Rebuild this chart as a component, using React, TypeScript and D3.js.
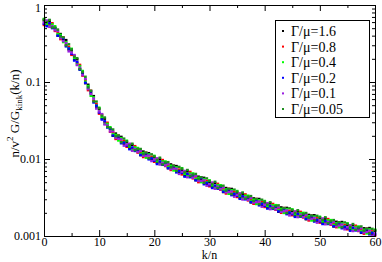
import React, { useEffect, useRef } from 'react';
import * as d3 from 'd3';

// k/n sampling grid shared by every series
const kValues = [
  0, 0.5, 1, 1.5, 2, 2.5, 3, 3.5, 4, 4.5, 5, 5.5, 6, 6.5, 7, 7.5, 8, 8.5, 9, 9.5,
  10, 10.5, 11, 11.5, 12, 12.5, 13, 13.5, 14, 14.5, 15, 15.5, 16, 16.5, 17, 17.5, 18, 18.5, 19, 19.5,
  20, 20.5, 21, 21.5, 22, 22.5, 23, 23.5, 24, 24.5, 25, 25.5, 26, 26.5, 27, 27.5, 28, 28.5, 29, 29.5,
  30, 30.5, 31, 31.5, 32, 32.5, 33, 33.5, 34, 34.5, 35, 35.5, 36, 36.5, 37, 37.5, 38, 38.5, 39, 39.5,
  40, 40.5, 41, 41.5, 42, 42.5, 43, 43.5, 44, 44.5, 45, 45.5, 46, 46.5, 47, 47.5, 48, 48.5, 49, 49.5,
  50, 50.5, 51, 51.5, 52, 52.5, 53, 53.5, 54, 54.5, 55, 55.5, 56, 56.5, 57, 57.5, 58, 58.5, 59, 59.5,
  60,
];

const g16 = [
  0.63, 0.55, 0.62, 0.51, 0.50, 0.40, 0.42, 0.35, 0.35, 0.264,
  0.257, 0.196, 0.197, 0.148, 0.132, 0.0965, 0.0922, 0.0713, 0.0656, 0.0477,
  0.0443, 0.0336, 0.0334, 0.0264, 0.0245, 0.0200, 0.0214, 0.0187, 0.0194, 0.0158,
  0.0165, 0.0139, 0.0152, 0.0131, 0.0132, 0.0112, 0.0125, 0.0112, 0.0119, 0.0099,
  0.0105, 0.0089, 0.0100, 0.0086, 0.0088, 0.0076, 0.0085, 0.0076, 0.0081, 0.0067,
  0.0072, 0.0061, 0.0069, 0.0060, 0.0061, 0.0053, 0.0059, 0.0053, 0.0057, 0.00475,
  0.00504, 0.00434, 0.00488, 0.00424, 0.00431, 0.00372, 0.0042, 0.0038, 0.00409, 0.00342,
  0.00366, 0.00314, 0.00354, 0.00308, 0.00315, 0.00273, 0.00308, 0.0028, 0.00303, 0.00254,
  0.00272, 0.00234, 0.00265, 0.00232, 0.00238, 0.00207, 0.00235, 0.00214, 0.00232, 0.00196,
  0.00212, 0.00183, 0.00208, 0.00183, 0.00189, 0.00165, 0.00188, 0.00171, 0.00186, 0.00157,
  0.0017, 0.00148, 0.00168, 0.00147, 0.00152, 0.00133, 0.00153, 0.0014, 0.00152, 0.00128,
  0.0014, 0.00121, 0.00138, 0.00121, 0.00125, 0.0011, 0.00126, 0.00116, 0.00127, 0.00106,
  0.00116,
];

const g08 = [
  0.55, 0.61, 0.56, 0.58, 0.46, 0.44, 0.36, 0.38, 0.30, 0.286,
  0.225, 0.219, 0.178, 0.167, 0.121, 0.107, 0.0783, 0.077, 0.0572, 0.0517,
  0.0388, 0.0375, 0.0303, 0.0296, 0.0226, 0.0222, 0.0182, 0.0202, 0.0169, 0.0171,
  0.0144, 0.0155, 0.0138, 0.0147, 0.0121, 0.0124, 0.0106, 0.0121, 0.0104, 0.0107,
  0.0092, 0.0100, 0.0091, 0.0097, 0.0081, 0.0084, 0.0072, 0.0082, 0.0071, 0.0073,
  0.0063, 0.0069, 0.0063, 0.0068, 0.0056, 0.0059, 0.0050, 0.0058, 0.0050, 0.0052,
  0.00442, 0.00486, 0.00443, 0.00476, 0.00398, 0.00413, 0.00356, 0.00411, 0.00357, 0.00371,
  0.00321, 0.00352, 0.00321, 0.00347, 0.0029, 0.00303, 0.00262, 0.00303, 0.00264, 0.00275,
  0.00238, 0.00262, 0.0024, 0.00261, 0.00219, 0.00229, 0.002, 0.00231, 0.00203, 0.00212,
  0.00186, 0.00205, 0.00189, 0.00206, 0.00174, 0.00183, 0.00159, 0.00185, 0.00162, 0.0017,
  0.00149, 0.00165, 0.00153, 0.00166, 0.0014, 0.00147, 0.0013, 0.00151, 0.00132, 0.00139,
  0.00122, 0.00135, 0.00125, 0.00136, 0.00116, 0.00122, 0.00107, 0.00125, 0.0011, 0.00115,
  0.00101,
];

const g04 = [
  0.66, 0.57, 0.53, 0.56, 0.53, 0.42, 0.41, 0.33, 0.33, 0.275,
  0.27, 0.205, 0.169, 0.161, 0.139, 0.101, 0.0887, 0.0662, 0.0632, 0.0497,
  0.0464, 0.035, 0.0287, 0.0286, 0.0259, 0.0209, 0.0206, 0.0174, 0.0187, 0.0164,
  0.0173, 0.0145, 0.0131, 0.0142, 0.0139, 0.0117, 0.012, 0.0104, 0.0115, 0.0103,
  0.011, 0.0093, 0.0086, 0.0093, 0.0093, 0.0079, 0.0082, 0.0071, 0.0078, 0.007,
  0.0076, 0.0064, 0.006, 0.0065, 0.0065, 0.0055, 0.0057, 0.005, 0.0055, 0.005,
  0.00528, 0.00453, 0.0042, 0.00459, 0.00457, 0.00389, 0.00404, 0.00353, 0.00394, 0.00356,
  0.00384, 0.00328, 0.00305, 0.00334, 0.00334, 0.00285, 0.00297, 0.0026, 0.00292, 0.00264,
  0.00285, 0.00244, 0.00228, 0.00251, 0.00252, 0.00216, 0.00226, 0.00199, 0.00224, 0.00204,
  0.00222, 0.00191, 0.00179, 0.00198, 0.002, 0.00172, 0.00181, 0.00159, 0.00179, 0.00163,
  0.00178, 0.00154, 0.00145, 0.0016, 0.00161, 0.00139, 0.00147, 0.0013, 0.00146, 0.00134,
  0.00146, 0.00126, 0.00119, 0.00131, 0.00133, 0.00115, 0.00121, 0.00108, 0.00122, 0.00111,
  0.00121,
];

const g02 = [
  0.57, 0.53, 0.58, 0.50, 0.50, 0.40, 0.39, 0.37, 0.29, 0.272,
  0.233, 0.19, 0.182, 0.144, 0.133, 0.0975, 0.0844, 0.0756, 0.0542, 0.0492,
  0.0401, 0.0325, 0.0309, 0.0256, 0.0247, 0.0202, 0.0196, 0.0198, 0.016, 0.0163,
  0.0149, 0.0134, 0.0141, 0.0127, 0.0133, 0.0113, 0.0114, 0.0119, 0.0099, 0.0102,
  0.0095, 0.0086, 0.0093, 0.0084, 0.0089, 0.0076, 0.0078, 0.0081, 0.0067, 0.007,
  0.0066, 0.0059, 0.0064, 0.0058, 0.0062, 0.0053, 0.0054, 0.0057, 0.0047, 0.0049,
  0.00456, 0.0042, 0.00452, 0.00411, 0.00436, 0.00376, 0.00384, 0.00403, 0.00339, 0.00353,
  0.00332, 0.00304, 0.00328, 0.00299, 0.00318, 0.00276, 0.00282, 0.00297, 0.0025, 0.00262,
  0.00246, 0.00227, 0.00245, 0.00225, 0.0024, 0.00209, 0.00215, 0.00227, 0.00192, 0.00202,
  0.00192, 0.00177, 0.00193, 0.00178, 0.00191, 0.00167, 0.00172, 0.00182, 0.00154, 0.00162,
  0.00154, 0.00143, 0.00156, 0.00143, 0.00153, 0.00134, 0.0014, 0.00148, 0.00126, 0.00132,
  0.00126, 0.00117, 0.00128, 0.00118, 0.00127, 0.00111, 0.00115, 0.00123, 0.00105, 0.0011,
  0.00105,
];

const g01 = [
  0.59, 0.63, 0.52, 0.53, 0.47, 0.46, 0.37, 0.34, 0.32, 0.25,
  0.24, 0.224, 0.166, 0.153, 0.123, 0.110, 0.0809, 0.0698, 0.0608, 0.0452,
  0.0414, 0.0383, 0.0281, 0.0272, 0.0228, 0.0229, 0.0188, 0.0183, 0.018, 0.0149,
  0.0154, 0.0158, 0.0128, 0.0135, 0.0123, 0.0128, 0.011, 0.011, 0.0111, 0.0094,
  0.0098, 0.0102, 0.0085, 0.0089, 0.0082, 0.0086, 0.0074, 0.0075, 0.0075, 0.0064,
  0.0068, 0.007, 0.0058, 0.0062, 0.0057, 0.006, 0.0052, 0.0052, 0.0053, 0.0045,
  0.0047, 0.00495, 0.00411, 0.00437, 0.00402, 0.00425, 0.00368, 0.00372, 0.00379, 0.00324,
  0.00342, 0.00358, 0.00298, 0.00318, 0.00294, 0.00312, 0.00271, 0.00275, 0.00281, 0.0024,
  0.00254, 0.00267, 0.00223, 0.00239, 0.00221, 0.00236, 0.00206, 0.0021, 0.00215, 0.00185,
  0.00198, 0.00209, 0.00176, 0.00189, 0.00176, 0.00188, 0.00165, 0.00168, 0.00172, 0.00149,
  0.00159, 0.00169, 0.00142, 0.00152, 0.00142, 0.00152, 0.00134, 0.00137, 0.00141, 0.00122,
  0.0013, 0.00138, 0.00116, 0.00125, 0.00117, 0.00126, 0.00111, 0.00113, 0.00117, 0.00101,
  0.00108,
];

const g005 = [
  0.65, 0.60, 0.64, 0.51, 0.51, 0.48, 0.39, 0.38, 0.30, 0.309,
  0.265, 0.213, 0.204, 0.147, 0.135, 0.117, 0.0853, 0.077, 0.056, 0.0557,
  0.0456, 0.0365, 0.0346, 0.0261, 0.0252, 0.0242, 0.0198, 0.0202, 0.0165, 0.0184,
  0.017, 0.015, 0.0158, 0.013, 0.0135, 0.0135, 0.0116, 0.0121, 0.0102, 0.0115,
  0.0108, 0.0097, 0.0104, 0.0085, 0.009, 0.0091, 0.0078, 0.0082, 0.007, 0.0079,
  0.0075, 0.0067, 0.0072, 0.006, 0.0063, 0.0064, 0.0055, 0.0058, 0.0049, 0.0056,
  0.00518, 0.00472, 0.00506, 0.0042, 0.00444, 0.0045, 0.00388, 0.00411, 0.0035, 0.004,
  0.00377, 0.00341, 0.00367, 0.00305, 0.00324, 0.0033, 0.00285, 0.00303, 0.00259, 0.00296,
  0.0028, 0.00255, 0.00274, 0.00229, 0.00245, 0.0025, 0.00218, 0.00231, 0.00198, 0.00229,
  0.00218, 0.00199, 0.00216, 0.00181, 0.00194, 0.00199, 0.00173, 0.00185, 0.00159, 0.00183,
  0.00175, 0.00161, 0.00175, 0.00146, 0.00156, 0.00161, 0.00141, 0.00151, 0.0013, 0.0015,
  0.00144, 0.00131, 0.00143, 0.0012, 0.00129, 0.00133, 0.00117, 0.00125, 0.00108, 0.00124,
  0.00119,
];

const seriesNames = ['Γ/μ=1.6', 'Γ/μ=0.8', 'Γ/μ=0.4', 'Γ/μ=0.2', 'Γ/μ=0.1', 'Γ/μ=0.05'];
const seriesValues = [g16, g08, g04, g02, g01, g005];
const seriesColors = ['#000000', '#ff0000', '#00ff00', '#0000ff', '#9a1fe0', '#1f8f1f'];

const xMajorTicks = [0, 10, 20, 30, 40, 50, 60];
const xMinorTicks = [5, 15, 25, 35, 45, 55];
const yMajorTicks = [1, 0.1, 0.01, 0.001];
const yTickLabels = ['1', '0.1', '0.01', '0.001'];

const W = 382;
const H = 262;
const FONT = '"Liberation Serif", "Times New Roman", serif';

const App: React.FC = () => {
  const ref = useRef<SVGSVGElement | null>(null);

  useEffect(() => {
    const svg = d3.select(ref.current);
    svg.selectAll('*').remove();

    const m = { top: 5, right: 7, bottom: 26, left: 44 };
    const x = d3.scaleLinear().domain([0, 60]).range([m.left, W - m.right]);
    const y = d3.scaleLog().domain([0.001, 1]).range([H - m.bottom, m.top]);

    const yMinor: number[] = [];
    [0.001, 0.01, 0.1].forEach(d => {
      for (let i = 2; i <= 9; i++) yMinor.push(d * i);
    });

    // data points
    const pts = svg.append('g');
    seriesValues.forEach((vals, si) => {
      pts.selectAll(null)
        .data(vals)
        .enter().append('rect')
        .attr('x', (d, i) => x(kValues[i]) - 1.4)
        .attr('y', d => y(d) - 1.2)
        .attr('width', 2.8)
        .attr('height', 2.4)
        .attr('fill', seriesColors[si]);
    });

    const styleAxis = (g: any) => {
      g.selectAll('path').attr('stroke', '#000');
      g.selectAll('line').attr('stroke', '#000');
      g.selectAll('text')
        .attr('font-family', FONT)
        .attr('font-size', 12)
        .attr('fill', '#000');
    };

    // bottom
    svg.append('g')
      .attr('transform', `translate(0,${y(0.001)})`)
      .call(d3.axisBottom(x).tickValues(xMajorTicks).tickSize(-6).tickSizeOuter(0).tickPadding(1.5).tickFormat(d3.format('d')))
      .call(styleAxis);
    svg.append('g')
      .attr('transform', `translate(0,${y(0.001)})`)
      .call(d3.axisBottom(x).tickValues(xMinorTicks).tickSize(-3).tickSizeOuter(0).tickFormat(() => ''))
      .call(styleAxis);
    // top
    svg.append('g')
      .attr('transform', `translate(0,${y(1)})`)
      .call(d3.axisTop(x).tickValues(xMajorTicks).tickSize(-6).tickSizeOuter(0).tickFormat(() => ''))
      .call(styleAxis);
    svg.append('g')
      .attr('transform', `translate(0,${y(1)})`)
      .call(d3.axisTop(x).tickValues(xMinorTicks).tickSize(-3).tickSizeOuter(0).tickFormat(() => ''))
      .call(styleAxis);
    // left
    const left = svg.append('g')
      .attr('transform', `translate(${x(0)},0)`)
      .call(d3.axisLeft(y).tickValues(yMajorTicks).tickSize(-6).tickSizeOuter(0).tickPadding(3)
        .tickFormat((d, i) => yTickLabels[i]))
      .call(styleAxis);
    // keep the top "1" label inside the picture
    left.selectAll('text').filter((d: any) => d === 1).attr('dy', '0.5em');
    svg.append('g')
      .attr('transform', `translate(${x(0)},0)`)
      .call(d3.axisLeft(y).tickValues(yMinor).tickSize(-3).tickSizeOuter(0).tickFormat(() => ''))
      .call(styleAxis);
    // right
    svg.append('g')
      .attr('transform', `translate(${x(60)},0)`)
      .call(d3.axisRight(y).tickValues(yMajorTicks).tickSize(-6).tickSizeOuter(0).tickFormat(() => ''))
      .call(styleAxis);
    svg.append('g')
      .attr('transform', `translate(${x(60)},0)`)
      .call(d3.axisRight(y).tickValues(yMinor).tickSize(-3).tickSizeOuter(0).tickFormat(() => ''))
      .call(styleAxis);

    // axis titles
    svg.append('text')
      .attr('x', (x(0) + x(60)) / 2)
      .attr('y', 259.3)
      .attr('text-anchor', 'middle')
      .attr('font-family', FONT)
      .attr('font-size', 12)
      .text('k/n');

    const yl = svg.append('text')
      .attr('transform', `translate(19,${(y(1) + y(0.001)) / 2 - 7}) rotate(-90)`)
      .attr('text-anchor', 'middle')
      .attr('font-family', FONT)
      .attr('font-size', 13);
    yl.append('tspan').text('n/v');
    yl.append('tspan').attr('font-size', 9).attr('dy', -6).text('2');
    yl.append('tspan').attr('dy', 6).text(' G/G');
    yl.append('tspan').attr('font-size', 9).attr('dy', 3).text('kink');
    yl.append('tspan').attr('dy', -3).text('(k/n)');

    // legend
    const lg = svg.append('g');
    lg.append('rect')
      .attr('x', 275.5).attr('y', 20.5)
      .attr('width', 94).attr('height', 97)
      .attr('fill', '#fff').attr('stroke', '#000');
    seriesNames.forEach((name, i) => {
      const cy = 31 + i * 15.6;
      lg.append('rect')
        .attr('x', 282).attr('y', cy - 1)
        .attr('width', 2).attr('height', 2)
        .attr('fill', seriesColors[i]);
      lg.append('text')
        .attr('x', 291).attr('y', cy + 5)
        .attr('font-family', FONT)
        .attr('font-size', 14)
        .text(name);
    });
  }, []);

  return (
    <div style={{ position: 'absolute', left: 0, top: 0 }}>
      <svg ref={ref} width={W} height={H} style={{ display: 'block', background: '#fff' }} />
    </div>
  );
};

export default App;
